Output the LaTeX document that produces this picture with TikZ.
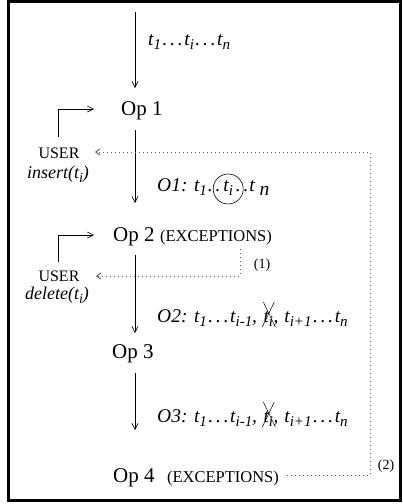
\documentclass[tikz,border=0pt]{standalone}
\usepackage{fontspec}
\setmainfont{Liberation Serif}
\usetikzlibrary{arrows.meta}
\newcommand\sbs[1]{\raisebox{-4.5pt}{\fontsize{15}{15}\selectfont #1}}
\newcommand\sbss[1]{\raisebox{-4pt}{\fontsize{15}{15}\selectfont #1}}
\newcommand\sbsu[1]{\raisebox{-4pt}{\fontsize{14}{14}\selectfont #1}}
\newcommand\dts{\hspace{1.5pt}.\hspace{2.8pt}.\hspace{2.8pt}.\hspace{1.5pt}}
\newcommand\dtw{.\hspace{2.8pt}.}
\begin{document}
\begin{tikzpicture}[x=1pt,y=-1pt,
  arr/.style={line width=0.6pt,-{Straight Barb[length=6pt,width=6pt]}},
  dotl/.style={line width=0.9pt, dash pattern=on 0.9pt off 3.1pt, black!65, -{Straight Barb[length=4pt,width=6pt]}},
  oplabel/.style={font=\fontsize{21}{24}\selectfont, inner sep=0pt, anchor=west},
  exc/.style={font=\fontsize{16.5}{18}\selectfont, inner sep=0pt},
  user/.style={font=\fontsize{16}{18}\selectfont, inner sep=0pt},
  num/.style={font=\fontsize{14}{16}\selectfont, inner sep=0pt},
  itl/.style={font=\fontsize{19.5}{22}\selectfont\itshape, inner sep=0pt},
  itls/.style={font=\fontsize{18}{20}\selectfont\itshape, inner sep=0pt},
  xline/.style={line width=0.5pt},
]
\useasboundingbox (0,0) rectangle (403,504);
\draw[line width=3pt] (8,1.5) rectangle (400,500);

% operation labels
\node[oplabel] (op1) at (121,111) {Op 1};
\node[oplabel] (op2) at (113,237) {Op 2};
\node[exc, anchor=base west] (ex2) at ([xshift=5pt]op2.base east) {(EXCEPTIONS)};
\node[oplabel] (op3) at (112,354) {Op 3};
\node[oplabel] (op4) at (113,478) {Op 4};
\node[exc, anchor=base west] (ex4) at ([xshift=12pt]op4.base east) {(EXCEPTIONS)};

% main arrows
\coordinate (a0s) at (135,12);  \coordinate (a0e) at (135,88);
\coordinate (a1s) at (135,130); \coordinate (a1e) at (135,203);
\coordinate (a2s) at (135,255); \coordinate (a2e) at (135,333);
\coordinate (a3s) at (135,373); \coordinate (a3e) at (135,430);
\draw[arr] (a0s) -- (a0e);
\draw[arr] (a1s) -- (a1e);
\draw[arr] (a2s) -- (a2e);
\draw[arr] (a3s) -- (a3e);

% sequence texts
\node[itl, anchor=west] (seq) at (148,42) {t\sbs{1}\dts t\sbs{i}\dts t\sbs{n}};

\node[itl, anchor=west] (o1a) at (157,187) {O1: t\sbs{1}\hspace{1pt}\dtw};
\node[itl, anchor=base west] (o1b) at ([xshift=2.5pt]o1a.base east) {t\sbs{i}};
\node[itl, anchor=base west] (o1c) at ([xshift=2.5pt]o1b.base east) {\dtw\hspace{1pt}t \raisebox{-4pt}{n}};
\node[draw, circle, line width=0.6pt, minimum size=30pt, inner sep=0pt] (circ) at ([yshift=-1pt]o1b.center) {};

\node[itl, anchor=west] (o2a) at (157,318) {O2: t\sbs{1}\dts t\sbss{i-1},};
\node[itl, anchor=base west] (o2b) at ([xshift=6pt]o2a.base east) {t\sbs{i}};
\node[itl, anchor=base west] (o2c) at (o2b.base east) {,\hspace{6pt}t\sbss{i+1}\dts t\sbs{n}};
\draw[xline] ([shift={(0,-9)}]o2b.north west) -- ([shift={(2,0)}]o2b.south east);
\draw[xline] ([shift={(1,-9)}]o2b.north east) -- ([shift={(-1,0)}]o2b.south west);

\node[itl, anchor=west] (o3a) at (157,418) {O3: t\sbs{1}\dts t\sbss{i-1},};
\node[itl, anchor=base west] (o3b) at ([xshift=6pt]o3a.base east) {t\sbs{i}};
\node[itl, anchor=base west] (o3c) at (o3b.base east) {,\hspace{6pt}t\sbss{i+1}\dts t\sbs{n}};
\draw[xline] ([shift={(0,-9)}]o3b.north west) -- ([shift={(2,0)}]o3b.south east);
\draw[xline] ([shift={(1,-9)}]o3b.north east) -- ([shift={(-1,0)}]o3b.south west);

% users
\node[user] (u1) at (59,153) {USER};
\node[itls] (ins) at (58,174) {insert(t\sbsu{i})};
\node[user] (u2) at (59,276) {USER};
\node[itls] (del) at (57,295) {delete(t\sbsu{i})};

% user feedback arrows
\coordinate (b1s) at (58,137); \coordinate (b1e) at (94,109);
\coordinate (b2s) at (58,262); \coordinate (b2e) at (94,235);
\draw[arr] (b1s) |- (b1e);
\draw[arr] (b2s) |- (b2e);

% dotted exception paths
\coordinate (d1a) at (240,249); \coordinate (d1b) at (240,276); \coordinate (d1c) at (96,276);
\draw[dotl] (d1a) -- (d1b) -- (d1c);
\node[num] (l1) at (262,265) {(1)};

\coordinate (d2a) at (287,475); \coordinate (d2b) at (370,475);
\coordinate (d2c) at (370,152); \coordinate (d2d) at (95,152);
\draw[dotl] (d2a) -- (d2b) -- (d2c) -- (d2d);
\node[num] (l2) at (386,466) {(2)};
\end{tikzpicture}
\end{document}
